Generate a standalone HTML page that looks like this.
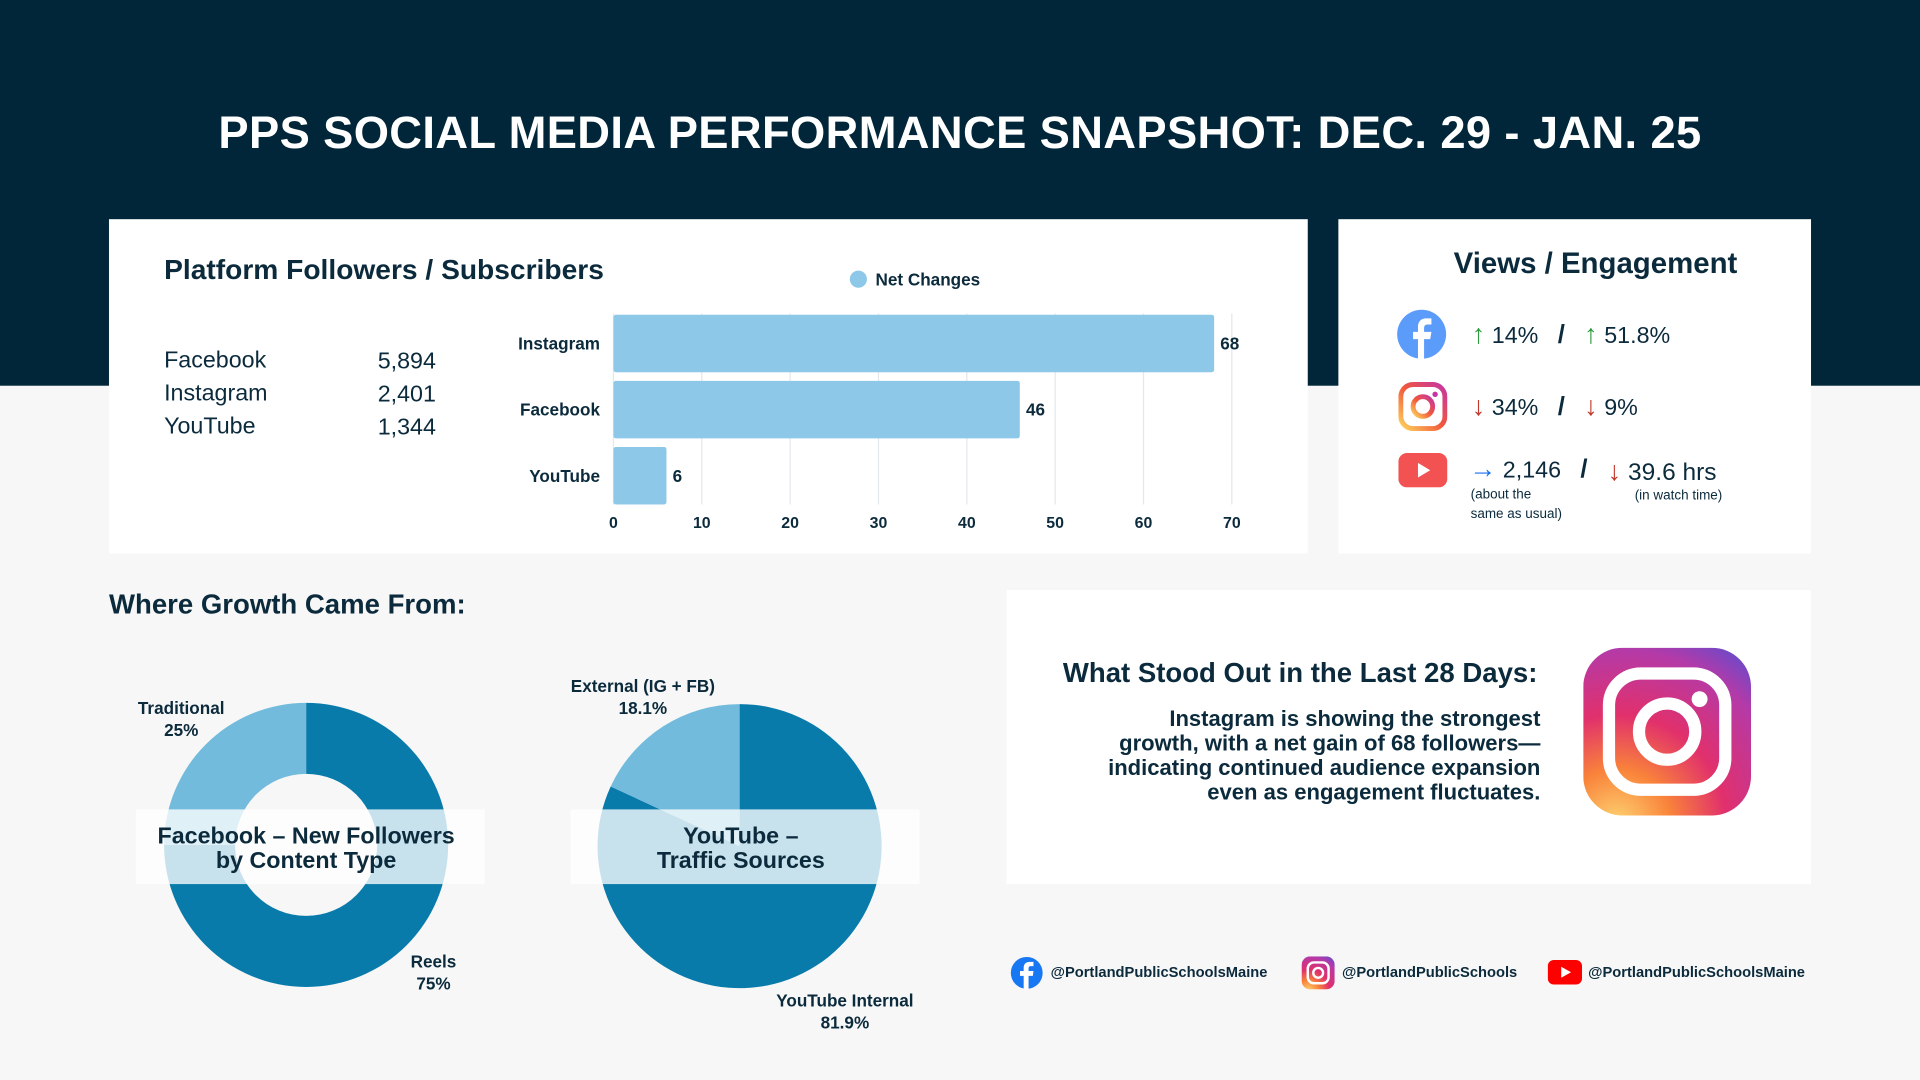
<!DOCTYPE html>
<html><head><meta charset="utf-8">
<style>
html,body{margin:0;padding:0;width:1920px;height:1080px;overflow:hidden;background:#f7f7f7;}
#stage{position:absolute;left:0;top:0;width:1568px;height:882px;transform:scale(1.22449);transform-origin:0 0;font-family:"Liberation Sans",sans-serif;color:#0b2a3c;}
.abs{position:absolute;}
.card{position:absolute;background:#fff;}
.b{font-weight:bold;}
.ar{font-size:22px;font-weight:bold;}
</style></head>
<body>
<div id="stage">
  <div class="abs" style="left:0;top:0;width:1568px;height:315px;background:#012639"></div>
  <div class="abs b" style="left:0;top:88px;width:1568px;text-align:center;color:#fff;font-size:37px;letter-spacing:0.3px">PPS SOCIAL MEDIA PERFORMANCE SNAPSHOT: DEC. 29 - JAN. 25</div>

  <div class="card" style="left:89px;top:179px;width:979px;height:273px"></div>
  <div class="abs b" style="left:134px;top:207px;font-size:23px">Platform Followers / Subscribers</div>
  <div class="abs" style="left:134px;top:281px;font-size:19px;line-height:27px">Facebook<br>Instagram<br>YouTube</div>
  <div class="abs" style="left:296px;top:282px;width:60px;text-align:right;font-size:19px;line-height:27px">5,894<br>2,401<br>1,344</div>

  <svg class="abs" id="bars" style="left:0;top:0" width="1568" height="882"></svg>

  <div class="card" style="left:1093px;top:179px;width:386px;height:273px"></div>
  <div class="abs b" style="left:1093px;top:202px;width:420px;text-align:center;font-size:24px">Views / Engagement</div>
  <svg class="abs" style="left:1140px;top:252px" width="42" height="42"><circle cx="21" cy="21" r="20" fill="#5b9bfa"/><path d="M23 42V25h5l1-6h-6v-3c0-2 1-3 3-3h3V8h-4c-5 0-7 3-7 7v4h-4v6h4v17z" fill="#fff"/></svg>
  <div class="abs" style="left:1202px;top:260px;font-size:19px"><span class="ar" style="color:#2e9a3e">↑</span> 14% &nbsp;&nbsp;<b style="font-size:21px">/</b>&nbsp;&nbsp; <span class="ar" style="color:#2e9a3e">↑</span> 51.8%</div>
  <svg class="abs" style="left:1142px;top:312px" width="40" height="40"><defs><linearGradient id="ig1" x1="0" y1="1" x2="1" y2="0"><stop offset="0" stop-color="#fdd35b"/><stop offset="0.5" stop-color="#f2573b"/><stop offset="1" stop-color="#c536a4"/></linearGradient></defs><rect x="2" y="2" width="36" height="36" rx="10" fill="none" stroke="url(#ig1)" stroke-width="4"/><circle cx="20" cy="20" r="8" fill="none" stroke="url(#ig1)" stroke-width="4"/><circle cx="30" cy="10" r="2.2" fill="#c536a4"/></svg>
  <div class="abs" style="left:1202px;top:319px;font-size:19px"><span class="ar" style="color:#c0392b">↓</span> 34% &nbsp;&nbsp;<b style="font-size:21px">/</b>&nbsp;&nbsp; <span class="ar" style="color:#c0392b">↓</span> 9%</div>
  <svg class="abs" style="left:1142px;top:370px" width="40" height="28"><rect width="40" height="28" rx="7" fill="#f25252"/><path d="M16 8l10 6-10 6z" fill="#fff"/></svg>
  <div class="abs" style="left:1200px;top:370px;font-size:19px"><span class="ar" style="color:#1a6cf0">→</span> 2,146 &nbsp;&nbsp;<b style="font-size:21px">/</b></div>
  <div class="abs" style="left:1201px;top:396px;font-size:11px;line-height:16px">(about the<br>same as usual)</div>
  <div class="abs" style="left:1313px;top:372px;font-size:20px"><span class="ar" style="color:#c0392b">↓</span> 39.6 hrs</div>
  <div class="abs" style="left:1335px;top:399px;font-size:11px">(in watch time)</div>

  <div class="abs b" style="left:89px;top:481px;font-size:22.5px">Where Growth Came From:</div>
  <svg class="abs" id="pies" style="left:0;top:0" width="822" height="882"></svg>

  <div class="card" style="left:822px;top:482px;width:657px;height:240px"></div>
  <div class="abs b" style="left:868px;top:537px;font-size:22.5px">What Stood Out in the Last 28 Days:</div>
  <div class="abs b" style="left:828px;top:577px;width:430px;text-align:right;font-size:18px;line-height:20px;white-space:nowrap">Instagram is showing the strongest<br>growth, with a net gain of 68 followers—<br>indicating continued audience expansion<br>even as engagement fluctuates.</div>
  <svg class="abs" style="left:1293px;top:529px" width="137" height="137"><defs><radialGradient id="ig2" cx="0.2" cy="1.05" r="1.3"><stop offset="0" stop-color="#fed472"/><stop offset="0.25" stop-color="#f9833a"/><stop offset="0.5" stop-color="#e1306c"/><stop offset="0.8" stop-color="#b43aa8"/><stop offset="1" stop-color="#5b4dd1"/></radialGradient></defs><rect width="137" height="137" rx="32" fill="url(#ig2)"/><rect x="21" y="21" width="95" height="95" rx="26" fill="none" stroke="#fff" stroke-width="10"/><circle cx="68.5" cy="68.5" r="23" fill="none" stroke="#fff" stroke-width="10"/><circle cx="95" cy="42" r="6.5" fill="#fff"/></svg>

  <svg class="abs" style="left:825px;top:781px" width="27" height="27"><circle cx="13.5" cy="13.5" r="13" fill="#1877f2"/><path d="M15 27V16h3.5l.5-4h-4v-2c0-1.2.5-2 2-2h2V4.5h-3c-3.5 0-5 2-5 5V12h-3v4h3v11z" fill="#fff"/></svg>
  <div class="abs b" style="left:858px;top:787px;font-size:12px">@PortlandPublicSchoolsMaine</div>
  <svg class="abs" style="left:1063px;top:781px" width="27" height="27"><rect width="27" height="27" rx="7" fill="url(#ig2)"/><rect x="5" y="5" width="17" height="17" rx="5" fill="none" stroke="#fff" stroke-width="2"/><circle cx="13.5" cy="13.5" r="4" fill="none" stroke="#fff" stroke-width="2"/></svg>
  <div class="abs b" style="left:1096px;top:787px;font-size:12px">@PortlandPublicSchools</div>
  <svg class="abs" style="left:1264px;top:784px" width="28" height="20"><rect width="28" height="20" rx="5" fill="#f00"/><path d="M11 5.5l8 4.5-8 4.5z" fill="#fff"/></svg>
  <div class="abs b" style="left:1297px;top:787px;font-size:12px">@PortlandPublicSchoolsMaine</div>
</div>
<script>
const barCategories = ["Instagram", "Facebook", "YouTube"];
const barValues = [68, 46, 6];
const xTicks = [0, 10, 20, 30, 40, 50, 60, 70];
const donutLabels = ["Reels", "Traditional"];
const donutValues = [75, 25];
const pieLabels = ["YouTube Internal", "External (IG + FB)"];
const pieValues = [81.9, 18.1];

const NS = "http://www.w3.org/2000/svg";
function mk(parent, tag, attrs, text) {
  const e = document.createElementNS(NS, tag);
  for (const k in attrs) e.setAttribute(k, attrs[k]);
  if (text !== undefined) e.textContent = text;
  parent.appendChild(e);
  return e;
}
const bs = document.getElementById('bars');
const x0 = 501, x1 = 1006, xMax = 70;
const xs = v => x0 + (v / xMax) * (x1 - x0);
const bandTop = 257, bandStep = 54, barH = 47;
xTicks.forEach(t => {
  const g = mk(bs, 'line', {x1: xs(t), x2: xs(t), y1: 256, y2: 412, stroke: '#e3e8ec', 'stroke-width': 1});
  
  
  const tl = mk(bs, 'text', {x: xs(t), y: 431, 'text-anchor': 'middle', 'font-size': 13, 'font-weight': 'bold', fill: '#0b2a3c', 'font-family': 'Liberation Sans, sans-serif'}, t);
  
  
});
barCategories.forEach((c, i) => {
  const y = bandTop + i * bandStep;
  const r = mk(bs, 'rect', {x: xs(0), y: y, width: xs(barValues[i]) - xs(0), height: barH, rx: 2, fill: '#8ec8e8'});
  
  
  const l = mk(bs, 'text', {x: 490, y: y + barH / 2 + 5, 'text-anchor': 'end', 'font-size': 14, 'font-weight': 'bold', fill: '#0b2a3c', 'font-family': 'Liberation Sans, sans-serif'}, c);
  
  
  const v = mk(bs, 'text', {x: xs(barValues[i]) + 5, y: y + barH / 2 + 5, 'font-size': 14, 'font-weight': 'bold', fill: '#0b2a3c', 'font-family': 'Liberation Sans, sans-serif'}, barValues[i]);
  
  
});
const ld = mk(bs, 'circle', {cx: 701, cy: 228, r: 7, fill: '#8ec8e8'});


const lt = mk(bs, 'text', {x: 715, y: 233, 'font-size': 14, 'font-weight': 'bold', fill: '#0b2a3c', 'font-family': 'Liberation Sans, sans-serif'}, 'Net Changes');



const ps = document.getElementById('pies');
const colors = ['#087bab', '#72bbdc'];
function arc(cx, cy, r, ri, a0, a1) {
  const p = (a, rr) => [cx + rr * Math.sin(a), cy - rr * Math.cos(a)];
  const large = (a1 - a0) > Math.PI ? 1 : 0;
  const [sx, sy] = p(a0, r), [ex, ey] = p(a1, r);
  let d = `M${sx},${sy}A${r},${r} 0 ${large} 1 ${ex},${ey}`;
  if (ri > 0) {
    const [ix, iy] = p(a1, ri), [jx, jy] = p(a0, ri);
    d += `L${ix},${iy}A${ri},${ri} 0 ${large} 0 ${jx},${jy}Z`;
  } else d += `L${cx},${cy}Z`;
  return d;
}
function drawPie(cx, cy, r, ri, vals, labels, name) {
  const tot = vals.reduce((a, b) => a + b, 0);
  let a = 0;
  vals.forEach((v, i) => {
    const a1 = a + v / tot * Math.PI * 2;
    const s = mk(ps, 'path', {d: arc(cx, cy, r, ri, a, Math.min(a1, a + Math.PI * 2 - 0.0001)), fill: colors[i]});
    
    
    a = a1;
  });
}
drawPie(250, 690, 116, 58, donutValues, donutLabels, 'donut');
drawPie(604, 691, 116, 0, pieValues, pieLabels, 'pie');
function lbl(x, y, lines, name) {
  const t = mk(ps, 'text', {x: x, y: y, 'text-anchor': 'middle', 'font-size': 14, 'font-weight': 'bold', fill: '#0b2a3c', 'font-family': 'Liberation Sans, sans-serif'});
  
  
  lines.forEach((ln, i) => mk(t, 'tspan', {x: x, dy: i ? 18 : 0}, ln));
}
lbl(148, 583, [donutLabels[1], donutValues[1] + '%'], 'donut-label-traditional');
lbl(354, 790, [donutLabels[0], donutValues[0] + '%'], 'donut-label-reels');
lbl(525, 565, [pieLabels[1], pieValues[1] + '%'], 'pie-label-external');
lbl(690, 822, [pieLabels[0], pieValues[0] + '%'], 'pie-label-internal');
[[111, 'Facebook – New Followers', 'by Content Type', 'donut-title'], [466, 'YouTube –', 'Traffic Sources', 'pie-title']].forEach(o => {
  const r = mk(ps, 'rect', {x: o[0], y: 661, width: 285, height: 61, fill: '#fff', 'fill-opacity': 0.78});
  
  
  const t = mk(ps, 'text', {x: o[0] + 139, y: 689, 'text-anchor': 'middle', 'font-size': 19, 'font-weight': 'bold', fill: '#0b2a3c', 'font-family': 'Liberation Sans, sans-serif'});
  
  
  mk(t, 'tspan', {x: o[0] + 139, dy: 0}, o[1]);
  mk(t, 'tspan', {x: o[0] + 139, dy: 20}, o[2]);
});
</script>
</body></html>
